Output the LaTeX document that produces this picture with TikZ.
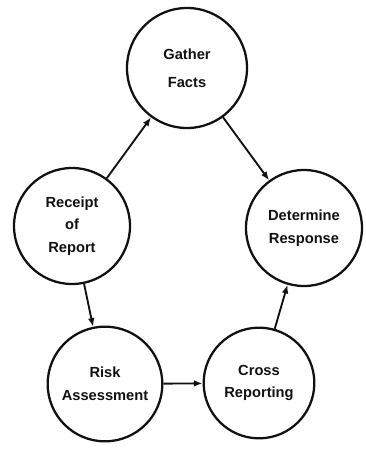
\documentclass[tikz,border=0pt]{standalone}
\usepackage{fontspec}
\setmainfont{Liberation Sans}
\usepackage{xcolor}
\usepackage{tikz}
\usetikzlibrary{arrows.meta}
\definecolor{ink}{HTML}{111111}
\tikzset{
  stage/.style={circle, draw=ink, line width=1.7pt, inner sep=0pt, align=center, text=ink, font=\fontsize{11}{17}\selectfont\bfseries},
  flow/.style={-{Latex[length=6.5pt,width=5pt]}, line width=1.4pt, color=ink}
}
\begin{document}
\begin{tikzpicture}[x=0.75pt,y=-0.75pt]
  \useasboundingbox (0,0) rectangle (365,449);
  \node[stage, minimum size=90pt] (g) at (187,68) {Gather\\[4pt]Facts};
  \node[stage, minimum size=87pt] (r) at (72,226) {Receipt\\of\\Report};
  \node[stage, minimum size=87pt] (d) at (304,228) {Determine\\Response};
  \node[stage, minimum size=86pt] (a) at (105,384) {Risk\\Assessment};
  \node[stage, minimum size=83pt] (c) at (259,383) {Cross\\Reporting};
  \draw[flow] (r) -- (g);
  \draw[flow] (g) -- (d);
  \draw[flow] (r) -- (a);
  \draw[flow] (a) -- (c);
  \draw[flow] (c) -- (d);
\end{tikzpicture}
\end{document}
